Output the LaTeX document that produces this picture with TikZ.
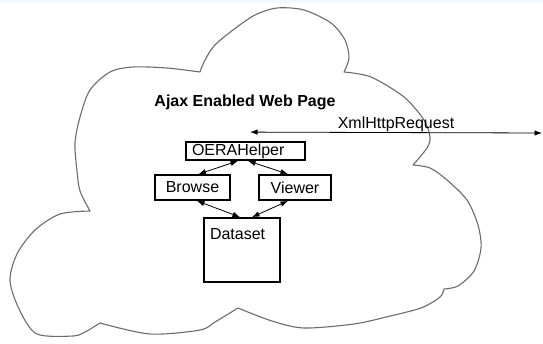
\documentclass[tikz,border=0pt]{standalone}
\usepackage{fontspec}
\setmainfont{Liberation Sans}
\usetikzlibrary{arrows.meta}
\begin{document}
\begin{tikzpicture}[x=1pt,y=-1pt]
\tikzset{box/.style = {draw,line width=1.8pt,inner sep=0pt,minimum height=25pt,font=\fontsize{16}{19}\selectfont}}
\tikzset{link/.style = {<->,> = {Latex[length=7.5pt,width=5.5pt]},line width=0.8pt}}
\useasboundingbox (0,0) rectangle (543,343);
\fill[cyan!6] (0,0) rectangle (543,3);
% cloud
\draw[black!58,line width=1.1pt,line join=round,line cap=round]
  plot[smooth] coordinates {(200,72) (204,62) (214,46) (233,30) (255,15) (277,8) (304,10) (331,23) (345,40) (349,58) (344,72)}
  plot[smooth] coordinates {(344,72) (371,77) (404,97) (424,120) (430,137) (427,148) (413,165)}
  plot[smooth] coordinates {(413,165) (430,168) (447,180) (467,200) (478,225) (481,248) (474,271) (458,286) (444,289)}
  plot[smooth] coordinates {(444,289) (440,297) (421,308) (386,317)}
  plot[smooth] coordinates {(386,317) (354,324) (304,328) (272,321) (238,308)}
  plot[smooth] coordinates {(238,308) (215,322) (200,330) (150,334) (100,323)}
  plot[smooth] coordinates {(100,323) (85,332) (73,336) (37,334) (20,311) (10,281) (17,254) (35,230) (60,214) (90,211)}
  plot[smooth] coordinates {(90,211) (80,191) (77,171) (75,143) (80,117) (90,90) (110,72) (133,67) (167,68) (200,72)};
% title
\node[font=\fontsize{16}{19}\selectfont\bfseries] (title) at (245,102) {Ajax Enabled Web Page};
% boxes
\node[box,minimum height=18pt,text width=107pt,align=left,inner xsep=6pt] (oera) at (245.5,151) {OERAHelper};
\node[box,minimum width=75pt] (browse) at (192.5,187.5) {Browse};
\node[box,minimum width=72pt] (viewer) at (295,187.5) {Viewer};
\node[box,text width=64pt,align=left,inner xsep=6pt,inner ysep=8pt,text height=13pt,text depth=35pt] (dataset) at (242,250) {Dataset};
\coordinate (net) at (542,133);
% edges
\draw[link] ([xshift=4.5pt,yshift=9pt]oera.north) -- node[above,inner sep=0pt,font=\fontsize{16}{19}\selectfont] {XmlHttpRequest} (net);
\draw[link] ([xshift=6pt]browse.north) -- ([xshift=-7.5pt]oera.south);
\draw[link] ([xshift=-7pt]viewer.north) -- ([xshift=2.5pt]oera.south);
\draw[link] ([xshift=4.5pt]browse.south) -- ([xshift=-2pt]dataset.north);
\draw[link] ([xshift=-7pt]viewer.south) -- ([xshift=10pt]dataset.north);
\end{tikzpicture}
\end{document}
